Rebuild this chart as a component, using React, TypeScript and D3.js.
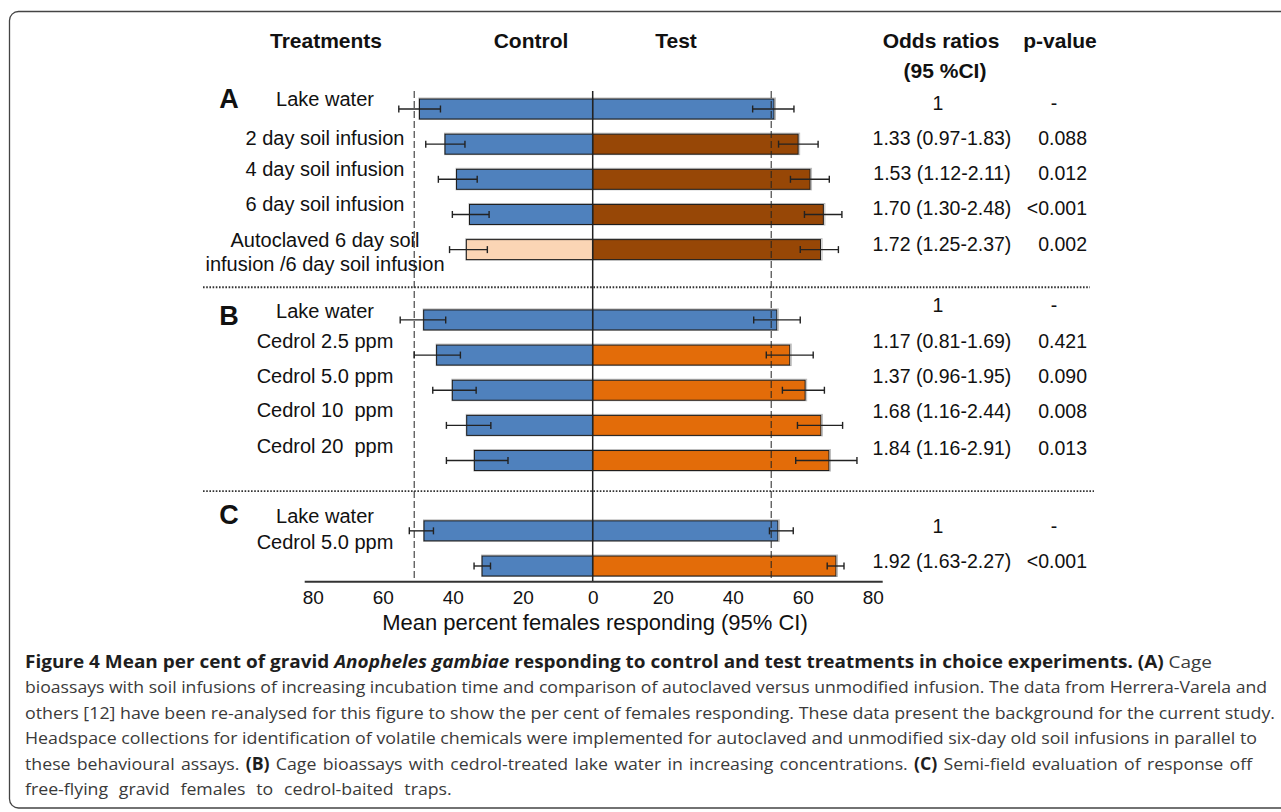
import { useEffect, useRef } from 'react'
import * as d3 from 'd3'

// rows in order, sections A / B / C
const sections = ['A', 'B', 'C']
const rowSection = [0, 0, 0, 0, 0, 1, 1, 1, 1, 1, 2, 2]
const treatments = [
  'Lake water',
  '2 day soil infusion',
  '4 day soil infusion',
  '6 day soil infusion',
  'Autoclaved 6 day soil\ninfusion /6 day soil infusion',
  'Lake water',
  'Cedrol 2.5 ppm',
  'Cedrol 5.0 ppm',
  'Cedrol 10  ppm',
  'Cedrol 20  ppm',
  'Lake water',
  'Cedrol 5.0 ppm',
]
const controlKind = ['lake', 'lake', 'lake', 'lake', 'autoclaved', 'lake', 'lake', 'lake', 'lake', 'lake', 'lake', 'lake']
const testKind = ['lake', 'soil', 'soil', 'soil', 'soil', 'lake', 'cedrol', 'cedrol', 'cedrol', 'cedrol', 'lake', 'cedrol']

const controlMean = [49.5, 42.2, 38.9, 35.2, 36.1, 48.3, 44.6, 40.1, 36.0, 33.8, 48.2, 31.6]
const controlLow = [43.5, 36.5, 33.0, 29.6, 30.1, 42.0, 37.8, 33.3, 29.1, 24.2, 45.5, 29.2]
const controlHigh = [55.4, 47.7, 44.1, 40.1, 40.9, 55.0, 51.0, 45.7, 41.8, 41.8, 52.4, 33.9]
const testMean = [51.8, 58.7, 62.1, 65.9, 65.1, 52.6, 56.3, 60.7, 65.2, 67.5, 52.9, 69.5]
const testLow = [45.7, 53.1, 56.5, 60.5, 59.3, 46.0, 49.6, 54.2, 58.5, 58.0, 50.5, 67.0]
const testHigh = [57.5, 64.4, 67.6, 71.2, 70.2, 59.3, 63.0, 66.2, 71.4, 75.5, 57.3, 71.8]

const oddsRatios = [
  '1', '1.33 (0.97-1.83)', '1.53 (1.12-2.11)', '1.70 (1.30-2.48)', '1.72 (1.25-2.37)',
  '1', '1.17 (0.81-1.69)', '1.37 (0.96-1.95)', '1.68 (1.16-2.44)', '1.84 (1.16-2.91)',
  '1', '1.92 (1.63-2.27)',
]
const pValues = ['-', '0.088', '0.012', '<0.001', '0.002', '-', '0.421', '0.090', '0.008', '0.013', '-', '<0.001']

const axisTicks = [-80, -60, -40, -20, 0, 20, 40, 60, 80]
const refLevel = 51

const captionLines = [
  [['Figure 4 Mean per cent of gravid ', 'b'], ['Anopheles gambiae', 'bi'], [' responding to control and test treatments in choice experiments. ', 'b'], ['(A)', 'b'], [' Cage', 'n']],
  [['bioassays with soil infusions of increasing incubation time and comparison of autoclaved versus unmodified infusion. The data from Herrera-Varela and', 'n']],
  [['others [12] have been re-analysed for this figure to show the per cent of females responding. These data present the background for the current study.', 'n']],
  [['Headspace collections for identification of volatile chemicals were implemented for autoclaved and unmodified six-day old soil infusions in parallel to', 'n']],
  [['these behavioural assays. ', 'n'], ['(B)', 'b'], [' Cage bioassays with cedrol-treated lake water in increasing concentrations. ', 'n'], ['(C)', 'b'], [' Semi-field evaluation of response off', 'n']],
  [['free-flying gravid females to cedrol-baited traps.', 'n']],
]

const fills = { lake: '#4f81bd', autoclaved: '#fbd5b5', soil: '#974706', cedrol: '#e36c09' }
const FONT = "'Liberation Sans', Arial, Helvetica, sans-serif"

export default function App() {
  const ref = useRef(null)

  useEffect(() => {
    const svg = d3.select(ref.current)
    svg.selectAll('*').remove()
    const width = 1281
    const height = 812

    const x = d3.scaleLinear().domain([-80, 80]).range([312.7, 872.7])
    const pos = treatments.map((_, i) => i + rowSection[i])
    const y = d3.scaleLinear().domain([0, 13]).range([109, 566])
    const barH = 20
    const top = 91
    const axisY = 581.7

    // label tweaks (layout only)
    const labelDy = [-10, -6, -10, -10, -9.5, -9, -14, -14, -15, -15, -15, -24]
    const statDy = [-6, -6, -6, -6, -6, -15, -14, -14, -14, -13, -5, -5]
    const letterDy = [-10, -4, -16]

    svg.append('rect').attr('width', width).attr('height', height).attr('fill', '#fff')
    svg.append('rect')
      .attr('x', 9.5).attr('y', 11.5).attr('width', 1300).attr('height', 796.5)
      .attr('rx', 9).attr('fill', 'none').attr('stroke', '#444').attr('stroke-width', 1.3)

    // headers
    const headers = [
      ['Treatments', 326, 40], ['Control', 531, 40], ['Test', 676, 40],
      ['Odds ratios', 941, 40], ['(95 %CI)', 945, 70], ['p-value', 1060, 40],
    ]
    svg.append('g').selectAll('text').data(headers).enter().append('text')
      .attr('x', d => d[1]).attr('y', d => d[2])
      .attr('text-anchor', 'middle').attr('dominant-baseline', 'central')
      .attr('font-family', FONT).attr('font-weight', 'bold').attr('font-size', 21)
      .attr('fill', '#111').text(d => d[0])

    // section letters
    sections.forEach((s, k) => {
      const first = rowSection.indexOf(k)
      svg.append('text')
        .attr('x', 229).attr('y', y(pos[first]) + letterDy[k])
        .attr('text-anchor', 'middle').attr('dominant-baseline', 'central')
        .attr('font-family', FONT).attr('font-weight', 'bold').attr('font-size', 27)
        .attr('fill', '#111').text(s)
    })

    // dotted separators
    const seps = [5.07, 10.87]
    svg.append('g').selectAll('line').data(seps).enter().append('line')
      .attr('x1', 203).attr('x2', (d, i) => (i === 0 ? 1090 : 1094))
      .attr('y1', d => y(d)).attr('y2', d => y(d))
      .attr('stroke', '#333').attr('stroke-width', 1.8).attr('stroke-dasharray', '1.6,1.6')

    // bars
    const rows = treatments.map((t, i) => i)
    const bars = svg.append('g')
    // faint shadow like the original export
    bars.selectAll('rect.shadow').data(rows).enter().append('rect')
      .attr('x', i => x(-controlMean[i]) - 0.5).attr('width', i => x(testMean[i]) - x(-controlMean[i]) + 2)
      .attr('y', i => y(pos[i]) - barH / 2 - 1).attr('height', barH + 1.5)
      .attr('fill', 'none').attr('stroke', '#bbb').attr('stroke-width', 1)
    bars.selectAll('rect.control').data(rows).enter().append('rect')
      .attr('class', 'control')
      .attr('x', i => x(-controlMean[i])).attr('width', i => x(0) - x(-controlMean[i]))
      .attr('y', i => y(pos[i]) - barH / 2).attr('height', barH)
      .attr('fill', i => fills[controlKind[i]])
      .attr('stroke', '#1a1a1a').attr('stroke-width', 1)
    bars.selectAll('rect.test').data(rows).enter().append('rect')
      .attr('class', 'test')
      .attr('x', x(0)).attr('width', i => x(testMean[i]) - x(0))
      .attr('y', i => y(pos[i]) - barH / 2).attr('height', barH)
      .attr('fill', i => fills[testKind[i]])
      .attr('stroke', '#1a1a1a').attr('stroke-width', 1)

    // reference dashed lines and zero line
    svg.append('g').selectAll('line').data([-refLevel, refLevel]).enter().append('line')
      .attr('x1', d => x(d)).attr('x2', d => x(d))
      .attr('y1', top).attr('y2', axisY)
      .attr('stroke', '#222').attr('stroke-width', 1).attr('stroke-dasharray', '7,3')
    svg.append('line')
      .attr('x1', x(0)).attr('x2', x(0)).attr('y1', top).attr('y2', axisY)
      .attr('stroke', '#222').attr('stroke-width', 1.5)

    // error bars
    const cap = 3.5
    const errs = []
    rows.forEach(i => {
      errs.push({ lo: -controlHigh[i], hi: -controlLow[i], yy: y(pos[i]) })
      errs.push({ lo: testLow[i], hi: testHigh[i], yy: y(pos[i]) })
    })
    const eg = svg.append('g').attr('stroke', '#222').attr('stroke-width', 1.4)
    eg.selectAll('line.h').data(errs).enter().append('line')
      .attr('x1', d => x(d.lo)).attr('x2', d => x(d.hi)).attr('y1', d => d.yy).attr('y2', d => d.yy)
    eg.selectAll('line.l').data(errs).enter().append('line')
      .attr('x1', d => x(d.lo)).attr('x2', d => x(d.lo)).attr('y1', d => d.yy - cap).attr('y2', d => d.yy + cap)
    eg.selectAll('line.r').data(errs).enter().append('line')
      .attr('x1', d => x(d.hi)).attr('x2', d => x(d.hi)).attr('y1', d => d.yy - cap).attr('y2', d => d.yy + cap)

    // treatment labels
    rows.forEach(i => {
      const lines = treatments[i].split('\n')
      lines.forEach((ln, j) => {
        svg.append('text')
          .attr('x', 325).attr('y', y(pos[i]) + labelDy[i] + j * 23.5)
          .attr('text-anchor', 'middle').attr('dominant-baseline', 'central')
          .attr('font-family', FONT).attr('font-size', 20).attr('fill', '#111')
          .style('white-space', 'pre')
          .text(ln)
      })
    })

    // odds ratios and p-values
    svg.append('g').selectAll('text').data(rows).enter().append('text')
      .attr('x', i => (oddsRatios[i] === '1' ? 938 : 942))
      .attr('y', i => y(pos[i]) + statDy[i])
      .attr('text-anchor', 'middle').attr('dominant-baseline', 'central')
      .attr('font-family', FONT).attr('font-size', 19.5).attr('fill', '#111')
      .text(i => oddsRatios[i])
    svg.append('g').selectAll('text').data(rows).enter().append('text')
      .attr('x', i => (pValues[i] === '-' ? 1054 : 1087))
      .attr('y', i => y(pos[i]) + statDy[i])
      .attr('text-anchor', i => (pValues[i] === '-' ? 'middle' : 'end'))
      .attr('dominant-baseline', 'central')
      .attr('font-family', FONT).attr('font-size', 19.5).attr('fill', '#111')
      .text(i => pValues[i])

    // x axis
    const axis = d3.axisBottom(x).tickValues(axisTicks).tickFormat(d => String(Math.abs(d))).tickSize(0).tickPadding(9)
    const ag = svg.append('g').attr('transform', `translate(0,${axisY})`).call(axis)
    ag.select('.domain').remove()
    ag.selectAll('text').attr('font-family', FONT).attr('font-size', 19).attr('fill', '#111')
    svg.append('line')
      .attr('x1', x(-80) - 8).attr('x2', x(80) + 10).attr('y1', axisY).attr('y2', axisY)
      .attr('stroke', '#333').attr('stroke-width', 2)
    svg.append('text')
      .attr('x', 595).attr('y', 622.7)
      .attr('text-anchor', 'middle').attr('dominant-baseline', 'central')
      .attr('font-family', FONT).attr('font-size', 22).attr('fill', '#111')
      .text('Mean percent females responding (95% CI)')

    // caption
    const captionEnds = [1212, 1267, 1275, 1257, 1253, 452]
    const capX = 25
    const texts = captionLines.map((segs, li) => {
      const t = svg.append('text')
        .attr('x', 0).attr('y', 0)
        .attr('transform', `translate(${capX},${667.5 + li * 25.5})`)
        .attr('font-family', "'Open Sans', 'Noto Sans', sans-serif").attr('font-size', 17)
        .attr('fill', '#3a3a3a').style('white-space', 'pre')
      segs.forEach(([s, st]) => {
        t.append('tspan')
          .attr('font-weight', st.includes('b') ? 'bold' : 'normal')
          .attr('font-style', st.includes('i') ? 'italic' : 'normal')
          .attr('fill', st.includes('b') ? '#1e1e1e' : '#3a3a3a')
          .text(s)
      })
      return { t, natural: t.node().getComputedTextLength(), target: captionEnds[li] - capX }
    })
    // body lines 1-3 are set solid, use them for the condense factor
    const r = d3.mean([1, 2, 3], k => texts[k].target / texts[k].natural)
    texts.forEach(({ t, natural, target }, li) => {
      if (li >= 4) {
        const spaces = captionLines[li].map(d => d[0]).join('').split(' ').length - 1
        t.attr('transform', `translate(${capX},${667.5 + li * 25.5}) scale(${r},1)`)
        t.attr('word-spacing', (target / r - natural) / spaces)
      } else {
        t.attr('textLength', target).attr('lengthAdjust', 'spacingAndGlyphs')
      }
    })
  }, [])

  return (
    <svg
      ref={ref}
      width={1281}
      height={812}
      viewBox="0 0 1281 812"
      style={{ position: 'absolute', left: 0, top: 0, display: 'block' }}
    />
  )
}
